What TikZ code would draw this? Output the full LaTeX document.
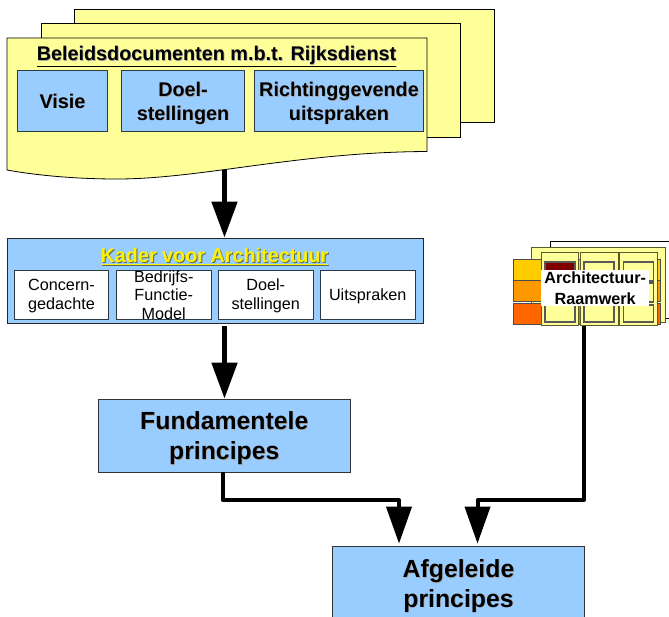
\documentclass[tikz,border=0pt]{standalone}
\usepackage{fontspec}
\setmainfont{Liberation Sans}
\usetikzlibrary{arrows.meta}
\definecolor{docyellow}{HTML}{FFFF99}
\definecolor{boxblue}{HTML}{99CCFF}
\definecolor{edge}{HTML}{2B3A44}
\definecolor{shadowgray}{HTML}{A8A8A8}
\definecolor{darkshadow}{HTML}{5E6A50}
\definecolor{cellolive}{HTML}{5A5A2A}
\definecolor{stripeA}{HTML}{FFCC00}
\definecolor{stripeB}{HTML}{FF9900}
\definecolor{stripeC}{HTML}{FF6600}
\definecolor{cellred}{HTML}{800000}
\newcommand\shd[1]{\leavevmode\rlap{\kern.8pt\raisebox{-.8pt}{\textcolor{shadowgray}{#1}}}#1}
\newcommand\shdk[1]{\leavevmode\rlap{\kern1pt\raisebox{-1pt}{\textcolor{darkshadow}{#1}}}#1}
\newcommand\dn[2]{\raisebox{-#1pt}[\height][\depth]{#2}}
\newcommand\fsz[1]{\fontsize{#1}{#1}\selectfont}
\tikzset{
  sheet/.style={draw=black,line width=.8pt,fill=docyellow},
  bluebox/.style={draw=edge,line width=.8pt,fill=boxblue,inner sep=0pt,align=center,font=\bfseries\fsz{19.8}},
  bigbox/.style={bluebox,draw=black!80,font=\bfseries\fsz{24.8}},
  whitebox/.style={draw=edge,line width=.8pt,fill=white,inner sep=0pt,align=center,minimum width=94.5pt,minimum height=49pt,font=\fsz{16.2}},
  titletext/.style={inner sep=0pt,font=\bfseries\fsz{19.8}},
  bigarrow/.style={line width=5pt,-{Triangle[length=36pt,width=25pt]}},
  elbow/.style={line width=4pt,line join=round,-{Triangle[length=37pt,width=25pt]}},
  colsheet/.style={draw=cellolive,line width=1pt,fill=docyellow},
  gridcell/.style={draw=black!65,line width=1.6pt,fill=docyellow},
  stripe/.style={draw=black!70,line width=.8pt},
}
\begin{document}
\begin{tikzpicture}[x=1pt,y=-1pt]
\clip (0,0) rectangle (669,616);
\fill[white] (0,0) rectangle (669,616);
% document stack
\draw[sheet] (74.5,9.5) rectangle (494,122.5);
\draw[sheet] (41,23.5) rectangle (460.5,137);
\draw[sheet] (7,38) -- (427,38) -- (427,151.5)
  .. controls (300,152) and (200,179) .. (117,179)
  .. controls (80,179) and (40,176) .. (7,170) -- cycle;
\coordinate (docout) at (224.5,170);
\node[titletext] (doctitle) at (216.5,56.5) {\shd{\underline{Beleidsdocumenten m.b.t. Rijksdienst}}};
\node[bluebox,minimum width=90pt,minimum height=61pt] (visie) at (62.5,100.5) {\dn{1}{\shd{Visie}}};
\node[bluebox,minimum width=122.5pt,minimum height=61pt] (doel) at (183,100.5) {\dn{3}{\shd{Doel-}}\\[4pt]\dn{3}{\shd{stellingen}}};
\node[bluebox,minimum width=169pt,minimum height=61pt] (richting) at (339,100.5) {\dn{3}{\shd{Richtinggevende}}\\[4pt]\dn{3}{\shd{uitspraken}}};
% kader
\node[bluebox,draw=black!85,minimum width=416pt,minimum height=85.5pt] (kader) at (215,280.75) {};
\node[titletext,text=yellow] (kadertitle) at (214.5,257) {\shdk{\underline{Kader voor Architectuur}}};
\node[whitebox] (concern) at (61.5,294.5) {\dn{1.5}{Concern-}\\[3pt]\dn{1.5}{gedachte}};
\node[whitebox] (bedrijf) at (163.75,294.5) {\dn{.5}{Bedrijfs-}\\[2pt]\dn{.5}{Functie-}\\[2.5pt]\dn{.5}{Model}};
\node[whitebox] (doelk) at (265.75,294.5) {\dn{1.5}{Doel-}\\[3pt]\dn{1.5}{stellingen}};
\node[whitebox] (uitspr) at (367.75,294.5) {\dn{1.5}{Uitspraken}};
% principes
\node[bigbox,minimum width=252.5pt,minimum height=73pt] (fund) at (224.25,435.5) {\dn{3}{\shd{Fundamentele}}\\[5pt]\dn{3}{\shd{principes}}};
\node[bigbox,minimum width=252pt,minimum height=74pt] (afg) at (458.5,583.5) {\dn{3}{\shd{Afgeleide}}\\[4.5pt]\dn{3}{\shd{principes}}};
% framework icon
\draw[black,line width=.8pt,fill=white] (550.7,241) rectangle (680,318);
\draw[colsheet] (531.7,247) rectangle (665.7,322.7);
\draw[stripe,fill=stripeA] (513,259.5) rectangle (660,280);
\draw[stripe,fill=stripeB] (513,280.8) rectangle (660,301.8);
\draw[stripe,fill=stripeC] (513,303) rectangle (660,324);
\draw[colsheet] (541,252) rectangle (578.7,325.7);
\draw[colsheet] (580.3,252) rectangle (618,325.7);
\draw[colsheet] (619.7,252) rectangle (657.3,325.7);
\draw[gridcell,fill=cellred] (545,262) rectangle (575,281);
\draw[gridcell] (584,262) rectangle (614,281);
\draw[gridcell] (623.5,262) rectangle (653.5,281);
\draw[gridcell] (545,283) rectangle (575,302);
\draw[gridcell] (584,283) rectangle (614,302);
\draw[gridcell] (623.5,283) rectangle (653.5,302);
\draw[gridcell] (545,305) rectangle (575,322);
\draw[gridcell] (584,305) rectangle (614,322);
\draw[gridcell] (623.5,305) rectangle (653.5,322);
\node[fill=white,inner sep=0pt,align=center,minimum width=108.3pt,minimum height=36pt,font=\bfseries\fsz{16.2}] (raamwerk) at (595.2,288) {Architectuur-\\[4.5pt]Raamwerk};
\coordinate (fwout) at (584,325.5);
% connectors
\draw[bigarrow] (docout) -- (docout |- kader.north);
\draw[bigarrow,shorten <=2.5pt] (kader.south -| docout) -- (docout |- fund.north);
\coordinate (leftdrop) at (399,500);
\coordinate (rightdrop) at (477.5,500);
\draw[elbow,shorten >=2.5pt] (222.7,472) |- (leftdrop) -- (leftdrop |- afg.north);
\draw[elbow,shorten >=2.5pt] (fwout) |- (rightdrop) -- (rightdrop |- afg.north);
\end{tikzpicture}
\end{document}
